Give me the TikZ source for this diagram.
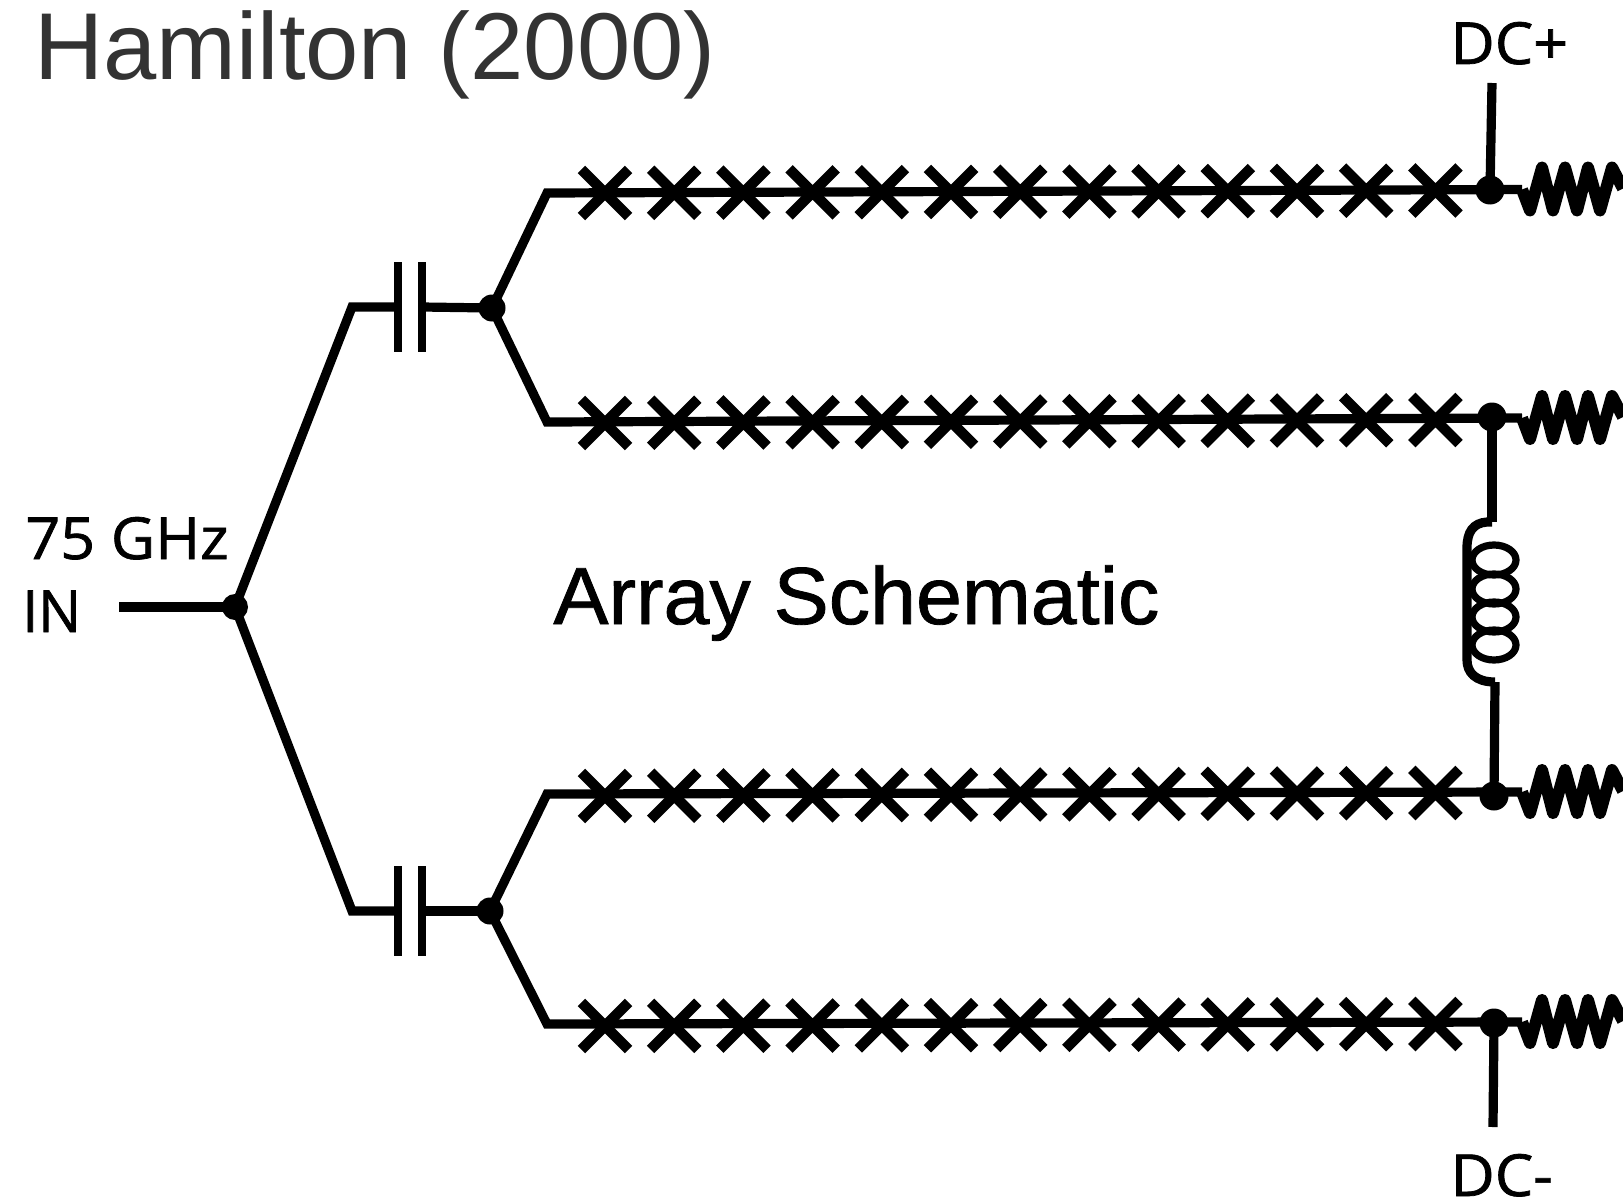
\documentclass[tikz,border=0pt]{standalone}
\usepackage{fontspec}
\usetikzlibrary{shapes.misc,shapes.geometric}
\setmainfont{Liberation Sans}
\newfontfamily\schem[FakeBold=1.2]{Open Sans}
\newfontfamily\heavy[FakeBold=1.0]{Liberation Sans}
\tikzset{
  wire/.style={line width=4.6pt,line join=miter},
  dot/.style={circle,fill=black,inner sep=0pt,minimum size=14.5pt},
  jcross/.style={cross out,draw=black,line width=5.2pt,line cap=butt,inner sep=0pt,outer sep=0pt,minimum size=23.6pt},
  plate/.style={rectangle,fill=black,inner sep=0pt,minimum width=3.8pt,minimum height=45pt},
  label/.style={anchor=base west,inner sep=0pt,font=\schem\fontsize{29}{29}\selectfont},
  coil/.style={ellipse,draw=black,line width=3.6pt,inner sep=0pt,minimum width=22pt,minimum height=15pt}
}
\begin{document}
\begin{tikzpicture}[x=0.5pt,y=-0.5pt]
\useasboundingbox (0,0) rectangle (1623,1204);
% title and labels
\node[anchor=base west,inner sep=0pt,font=\fontsize{47.5}{47.5}\selectfont,text=black!80,xscale=1.008] (title) at (34,80) {Hamilton (2000)};
\node[label,xscale=1.05] (dcp) at (1450,64) {DC+};
\node[label,xscale=1.05] (dcm) at (1450,1196) {DC-};
\node[label,xscale=1.05] (ghz) at (25,559) {75 GHz};
\node[label,xscale=0.98] (in) at (22,632) {IN};
\node[anchor=base west,inner sep=0pt,font=\heavy\fontsize{40.5}{40.5}\selectfont,xscale=1.02] (array) at (553,624) {Array Schematic};
% junctions
\node[dot,minimum size=13pt] (j0) at (235,607) {};
\node[dot,minimum size=13.5pt] (j1) at (492,308) {};
\node[dot,minimum size=13.5pt] (j2) at (490,911) {};
\coordinate (in0) at (119,607);
\coordinate (c1) at (352,307);
\coordinate (c2) at (352,911);
\node[plate] (p1a) at (398,307) {};
\node[plate] (p1b) at (422,307) {};
\node[plate] (p2a) at (398,911) {};
\node[plate] (p2b) at (422,911) {};
\draw[wire] (in0) -- (j0.center);
\draw[wire] (j0.center) -- (c1) -- (p1a.center);
\draw[wire] (j0.center) -- (c2) -- (p2a.center);
\draw[wire] (p1b.center) -- (j1.center);
\draw[wire] (p2b.center) -- (j2.center);
% rows: name / line y left / line y right / cross y left / cross y right / dot x / dot y / source
\foreach \r/\la/\lb/\ca/\cb/\dx/\dy/\from in {a/193/189.5/193/190.5/1490/190/j1,b/422/418/423/420/1492/417/j1,c/794/792/796/793/1494/796/j2,d/1024/1022/1026/1024/1494/1023/j2}{
  \coordinate (k\r) at (547,\la);
  \coordinate (r\r) at (1522,\lb);
  \node[dot] (d\r) at (\dx,\dy) {};
  \draw[wire] (\from.center) -- (k\r) -- (r\r);
  \foreach \i in {0,...,12}{
    \node[jcross] (x\r\i) at ({605+69.2*\i},{\ca+(\cb-\ca)*\i/12}) {};
  }
  \draw[line width=6pt,line join=round] (r\r) -- ++(8,21) -- ++(12,-43) -- ++(11,43) -- ++(12,-43) -- ++(12,43) -- ++(11,-43) -- ++(12,43) -- ++(12,-43) -- ++(11,21);
}
% DC leads
\coordinate (tp) at (1492,83);
\coordinate (tm) at (1493,1127);
\draw[wire] (tp) -- (da.center);
\draw[wire] (dd.center) -- (tm);
% inductor
\coordinate (la) at (1492,522);
\coordinate (lb) at (1495,682);
\draw[wire] (db.center) -- (la);
\draw[wire] (lb) -- (dc.center);
\draw[wire] (la) -- ++(-5,0) .. controls (1473,523) and (1467,532) .. (1467,548) -- (1467,660) .. controls (1467,672) and (1475,682) .. (lb);
\foreach \i/\cy in {1/560,2/589,3/617,4/645}{
  \node[coil] (coil\i) at (1494,\cy) {};
}
\end{tikzpicture}
\end{document}
